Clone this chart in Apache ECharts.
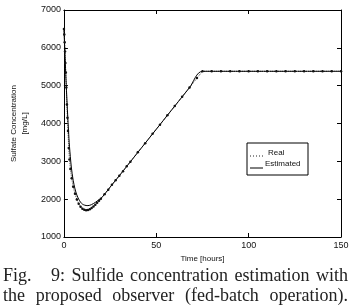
<!DOCTYPE html>
<html>
<head>
<meta charset="utf-8">
<script src="https://cdn.jsdelivr.net/npm/echarts@6/dist/echarts.min.js"></script>
<style>
  html, body { margin: 0; padding: 0; background: #fff; }
  #wrap { position: relative; width: 352px; height: 306px; overflow: hidden; }
  #chart { position: absolute; left: 0; top: 0; width: 352px; height: 306px; }
  .cap {
    position: absolute; left: 3px; width: 345px;
    font-family: 'Liberation Serif', 'DejaVu Serif', serif;
    font-size: 18px; line-height: 20px; color: #222;
    text-align: justify; text-align-last: justify;
  }
</style>
</head>
<body>
<div id="wrap">
  <div id="chart"></div>
  <div class="cap" style="top:265px;">Fig.&nbsp;&nbsp; 9: Sulfide concentration estimation with</div>
  <div class="cap" style="top:285px;">the proposed observer (fed-batch operation).</div>
</div>
<script>
// Real sulfate concentration (dotted, with markers)
const realTime = [0, 0.2, 0.4, 0.6, 0.8, 1, 1.3, 1.6, 1.9, 2.2, 2.6, 3, 3.5, 4.2, 5, 6, 7, 8, 9, 10,
  11, 12, 13, 14, 15, 16, 17, 18, 19, 20, 22, 24, 26, 28, 30, 32, 34, 36, 40, 44, 48, 52, 56, 60,
  64, 68, 72, 75, 80, 85, 90, 95, 100, 105, 110, 115, 120, 125, 130, 135, 140, 145, 150];
const realValue = [6500, 6350, 6150, 5900, 5600, 5350, 4950, 4500, 4150, 3800, 3350, 3050, 2800, 2550, 2330, 2140, 1990, 1880, 1800, 1750,
  1720, 1710, 1715, 1735, 1765, 1805, 1855, 1905, 1955, 2010, 2130, 2250, 2380, 2500, 2620, 2740, 2870, 2990, 3240, 3480, 3730, 3970, 4220, 4460,
  4710, 4950, 5200, 5380, 5380, 5380, 5380, 5380, 5380, 5380, 5380, 5380, 5380, 5380, 5380, 5380, 5380, 5380, 5380];

// Estimated (solid)
const estTime = [0, 0.5, 1, 1.5, 2, 2.5, 3, 4, 5, 6, 7, 8, 9, 10, 11, 12, 13, 14, 15, 16, 17, 18, 19, 20,
  22, 26, 30, 36, 44, 52, 60, 68, 75, 150];
const estValue = [6500, 5900, 5300, 4750, 4250, 3800, 3400, 2850, 2500, 2270, 2110, 2000, 1920, 1870, 1845, 1832, 1830, 1838, 1858, 1885, 1915, 1950, 1985, 2020,
  2130, 2380, 2620, 2990, 3480, 3970, 4460, 4950, 5380, 5380];

const xTicks = [0, 50, 100, 150];
const yTicks = [1000, 2000, 3000, 4000, 5000, 6000, 7000];

const font = 'Liberation Sans, Arial, sans-serif';
const realData = realTime.map((t, i) => [t, realValue[i]]);
const estData = estTime.map((t, i) => [t, estValue[i]]);

const chart = echarts.init(document.getElementById('chart'));

const axisCommon = {
  axisLine: { show: true, onZero: false, lineStyle: { color: '#000', width: 1 } },
  axisTick: { show: true, inside: true, length: 4, lineStyle: { color: '#000' } },
  splitLine: { show: false }
};

chart.setOption({
  animation: false,
  backgroundColor: '#fff',
  grid: { left: 54, right: 11, top: 10, bottom: 69 },
  xAxis: [
    {
      ...axisCommon,
      type: 'value', min: xTicks[0], max: xTicks[xTicks.length - 1], interval: 50,
      position: 'bottom',
      axisLabel: { fontSize: 9, color: '#111', fontFamily: font, margin: 4, formatter: v => String(v) },
      name: 'Time [hours]', nameLocation: 'middle', nameGap: 15,
      nameTextStyle: { fontSize: 8, color: '#111', fontFamily: font }
    },
    {
      ...axisCommon,
      type: 'value', min: xTicks[0], max: xTicks[xTicks.length - 1], interval: 50,
      position: 'top', axisLabel: { show: false }
    }
  ],
  yAxis: [
    {
      ...axisCommon,
      type: 'value', min: yTicks[0], max: yTicks[yTicks.length - 1], interval: 1000,
      position: 'left',
      axisLabel: { fontSize: 9, color: '#111', fontFamily: font, margin: 3, formatter: v => String(v) },
      name: 'Sulfate Concentration\n[mg/L]', nameLocation: 'middle', nameGap: 27,
      nameTextStyle: { fontSize: 8, color: '#111', fontFamily: font, lineHeight: 11 }
    },
    {
      ...axisCommon,
      type: 'value', min: yTicks[0], max: yTicks[yTicks.length - 1], interval: 1000,
      position: 'right', axisLabel: { show: false }
    }
  ],
  series: [
    {
      name: 'Real', type: 'line', data: realData,
      showSymbol: true, symbol: 'circle', symbolSize: 2.5,
      itemStyle: { color: '#111' },
      lineStyle: { color: '#444', width: 1, type: 'dotted' }
    },
    {
      name: 'Estimated', type: 'line', data: estData, smooth: 0.3,
      showSymbol: false, symbol: 'none',
      lineStyle: { color: '#000', width: 1 }
    }
  ],
  graphic: [
    { type: 'rect', shape: { x: 247, y: 143, width: 61, height: 32 },
      style: { fill: '#fff', stroke: '#000', lineWidth: 1 } },
    { type: 'line', shape: { x1: 250, y1: 156, x2: 263, y2: 156 },
      style: { stroke: '#222', lineWidth: 1, lineDash: [1, 2] } },
    { type: 'line', shape: { x1: 250, y1: 168, x2: 263, y2: 168 },
      style: { stroke: '#000', lineWidth: 1 } },
    { type: 'text', x: 268, y: 153, style: { text: 'Real', fontSize: 8, fontFamily: font, fill: '#111', verticalAlign: 'middle' } },
    { type: 'text', x: 265, y: 164, style: { text: 'Estimated', fontSize: 8, fontFamily: font, fill: '#111', verticalAlign: 'middle' } }
  ]
});
</script>
</body>
</html>
